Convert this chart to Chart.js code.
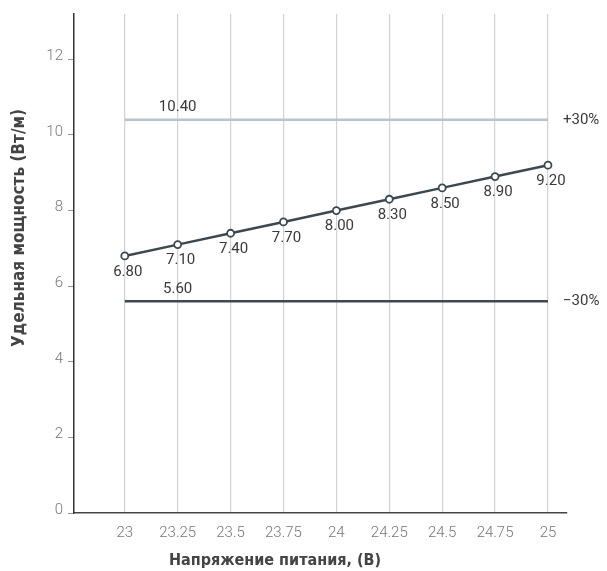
<!DOCTYPE html>
<html>
<head>
<meta charset="utf-8">
<script src="https://cdn.jsdelivr.net/npm/chart.js@4/dist/chart.umd.min.js"></script>
<style>
  html, body { margin: 0; padding: 0; background: #fff; }
  #wrap { width: 607px; height: 571px; }
</style>
</head>
<body>
<div id="wrap"><canvas id="powerChart"></canvas></div>
<script>
const voltage = [23, 23.25, 23.5, 23.75, 24, 24.25, 24.5, 24.75, 25];
const power = [6.8, 7.1, 7.4, 7.7, 8.0, 8.3, 8.6, 8.9, 9.2];
const powerLabels = ["6.80", "7.10", "7.40", "7.70", "8.00", "8.30", "8.50", "8.90", "9.20"];
const upperLimit = 10.4;
const lowerLimit = 5.6;
const upperText = "10.40";
const lowerText = "5.60";
const upperTag = "+30%";
const lowerTag = "\u221230%";
const yTicks = [0, 2, 4, 6, 8, 10, 12];
const xTitle = "Напряжение питания, (В)";
const yTitle = "Удельная мощность (Вт/м)";

const dark = "#3b4850";
const light = "#b8c3ca";
const textColor = "#3a3a3a";

const annotate = {
  id: "annotate",
  afterDatasetsDraw(chart) {
    const { ctx, scales } = chart;
    const x = scales.x, y = scales.y;
    ctx.save();
    ctx.fillStyle = textColor;
    ctx.font = "15px Roboto";
    ctx.textAlign = "center";
    ctx.textBaseline = "middle";

    // value labels under the points
    const meta = chart.getDatasetMeta(0);
    meta.data.forEach((pt, i) => {
      ctx.fillText(powerLabels[i], pt.x + 3, pt.y + 16);
    });

    // limit values above the lines
    ctx.fillText(upperText, x.getPixelForValue(voltage[1]), y.getPixelForValue(upperLimit) - 13);
    ctx.fillText(lowerText, x.getPixelForValue(voltage[1]), y.getPixelForValue(lowerLimit) - 12);

    // percent tags on the right
    ctx.textAlign = "left";
    const tagX = x.getPixelForValue(voltage[voltage.length - 1]) + 15;
    ctx.fillText(upperTag, tagX, y.getPixelForValue(upperLimit));
    ctx.fillText(lowerTag, tagX, y.getPixelForValue(lowerLimit));

    // axis titles
    ctx.fillStyle = "#444";
    ctx.textAlign = "center";
    ctx.font = "bold 16px 'DejaVu Sans Condensed'";
    ctx.fillText(xTitle, 275, 561);
    ctx.font = "bold 17px 'DejaVu Sans Condensed'";
    ctx.translate(20, 228);
    ctx.rotate(-Math.PI / 2);
    ctx.fillText(yTitle, 0, 0);
    ctx.restore();
  }
};

new Chart(document.getElementById("powerChart"), {
  type: "line",
  data: {
    datasets: [
      {
        label: "power",
        data: voltage.map((v, i) => ({ x: v, y: power[i] })),
        borderColor: dark,
        borderWidth: 2.5,
        pointRadius: 3.5,
        pointBackgroundColor: "#fff",
        pointBorderColor: dark,
        pointBorderWidth: 1.8,
        tension: 0,
      },
      {
        label: "upper",
        data: [
          { x: voltage[0], y: upperLimit },
          { x: voltage[voltage.length - 1], y: upperLimit },
        ],
        borderColor: light,
        borderWidth: 2.5,
        pointRadius: 0,
      },
      {
        label: "lower",
        data: [
          { x: voltage[0], y: lowerLimit },
          { x: voltage[voltage.length - 1], y: lowerLimit },
        ],
        borderColor: dark,
        borderWidth: 2.5,
        pointRadius: 0,
      },
    ],
  },
  options: {
    responsive: true,
    maintainAspectRatio: false,
    animation: false,
    layout: { padding: { top: 5, right: 40, left: 0, bottom: 0 } },
    plugins: {
      legend: { display: false },
      tooltip: { enabled: false },
    },
    scales: {
      x: {
        type: "linear",
        min: 22.76,
        max: 25.09,
        afterBuildTicks: (axis) => {
          axis.ticks = voltage.map((v) => ({ value: v }));
        },
        afterFit: (axis) => {
          axis.height = 58;
        },
        ticks: {
          callback: (v) => String(v),
          color: "#777",
          font: { family: "Roboto", size: 15, weight: "300" },
          padding: 11,
          maxRotation: 0,
          autoSkip: false,
        },
        grid: {
          color: "#d2d2d2",
          lineWidth: 1.2,
          drawTicks: false,
        },
        border: { color: "#444", width: 1.5 },
      },
      y: {
        min: 0,
        max: 13.2,
        afterBuildTicks: (axis) => {
          axis.ticks = yTicks.map((v) => ({ value: v }));
        },
        afterFit: (axis) => {
          axis.width = 74;
        },
        ticks: {
          color: "#777",
          font: { family: "Roboto", size: 15, weight: "300" },
          padding: 5,
          labelOffset: -3,
        },
        grid: {
          drawOnChartArea: false,
          drawTicks: true,
          tickLength: 6,
          tickColor: "#999",
        },
        border: { color: "#333", width: 1.5 },
      },
    },
  },
  plugins: [annotate],
});
</script>
</body>
</html>
